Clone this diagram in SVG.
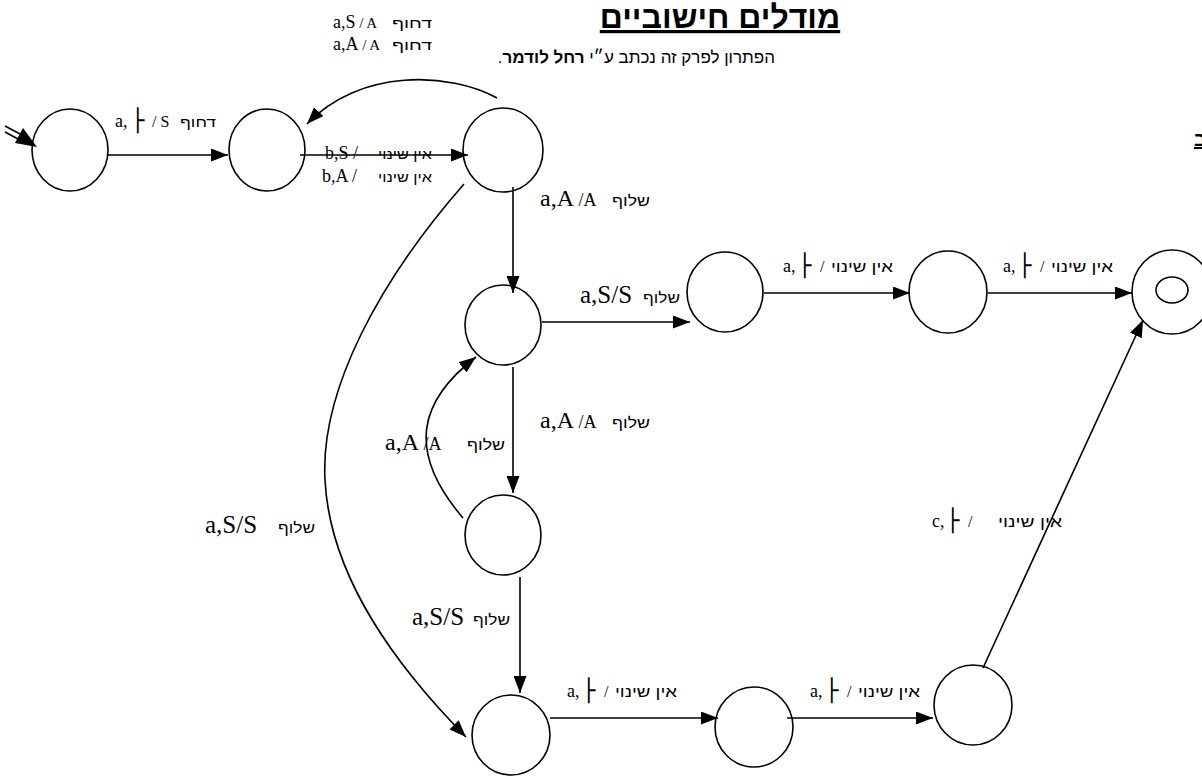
<svg xmlns="http://www.w3.org/2000/svg" width="1202" height="776" viewBox="0 0 1202 776">
<style>
.n{fill:none;stroke:#000;stroke-width:1.6}
.c{fill:none;stroke:#000;stroke-width:1.6}
.s{font-family:"Liberation Serif",serif;fill:#000}
.h{font-family:"Liberation Sans",sans-serif;font-size:14px;fill:#000}
.hb{font-family:"Liberation Sans",sans-serif;font-size:15px;fill:#000}
.t{font-family:"DejaVu Sans",sans-serif;font-size:22px;fill:#000}
</style>
<defs>
<marker id="ah" markerWidth="17" markerHeight="13" refX="17" refY="6.5" orient="auto" markerUnits="userSpaceOnUse"><path d="M0,0 L17,6.5 L0,13 z" fill="#000"/></marker>
</defs>
<rect width="1202" height="776" fill="#fff"/>
<g id="title">
<text x="720" y="28" text-anchor="middle" font-family="'Liberation Sans',sans-serif" font-size="32" font-weight="bold" text-decoration="underline">מודלים חישוביים</text>
<text x="775" y="63" direction="rtl" font-family="'Liberation Sans',sans-serif" font-size="17">הפתרון לפרק זה נכתב ע״י <tspan font-weight="bold">רחל לודמר</tspan>.</text>
<text x="1194" y="146" font-family="'Liberation Sans',sans-serif" font-size="20" font-weight="bold" text-decoration="underline">ב</text>
</g>
<g id="connectors">
<path class="c" d="M108,155 L228,155" marker-end="url(#ah)"/>
<path class="c" d="M300,155 L468,155" marker-end="url(#ah)"/>
<path class="c" d="M497,98 C450,72 360,68 307,124" marker-end="url(#ah)"/>
<path class="c" d="M513,187 L513,293" marker-end="url(#ah)"/>
<path class="c" d="M542,322 L690,322" marker-end="url(#ah)"/>
<path class="c" d="M764,293 L910,293" marker-end="url(#ah)"/>
<path class="c" d="M988,293 L1132,293" marker-end="url(#ah)"/>
<path class="c" d="M513,367 L513,493" marker-end="url(#ah)"/>
<path class="c" d="M463,518 C405,450 420,400 476,357" marker-end="url(#ah)"/>
<path class="c" d="M520,577 L520,693" marker-end="url(#ah)"/>
<path class="c" d="M550,718 L718,718" marker-end="url(#ah)"/>
<path class="c" d="M787,718 L933,718" marker-end="url(#ah)"/>
<path class="c" d="M983,668 L1143,320" marker-end="url(#ah)"/>
<path class="c" d="M464,184 C380,280 320,390 325,480 C330,580 400,670 466,737" marker-end="url(#ah)"/>
<path class="c" d="M5,126 L20,134 M5,132 L20,140"/>
<polygon points="37,147 15,143 23,128" fill="#000"/>
</g>
<g id="q0"><ellipse class="n" cx="70" cy="150" rx="38" ry="41"/></g>
<g id="q1"><ellipse class="n" cx="267" cy="150" rx="38" ry="41"/></g>
<g id="q2"><ellipse class="n" cx="503" cy="150" rx="40" ry="42"/></g>
<g id="q3"><ellipse class="n" cx="503" cy="325" rx="38" ry="40"/></g>
<g id="q4"><ellipse class="n" cx="503" cy="535" rx="38" ry="40"/></g>
<g id="q5"><ellipse class="n" cx="511" cy="735" rx="39" ry="40"/></g>
<g id="q6"><ellipse class="n" cx="725" cy="292" rx="38" ry="40"/></g>
<g id="q7"><ellipse class="n" cx="948" cy="292" rx="39" ry="41"/></g>
<g id="q8"><ellipse class="n" cx="1172" cy="292" rx="40" ry="42"/><ellipse class="n" cx="1172" cy="290" rx="16" ry="13"/></g>
<g id="q9"><ellipse class="n" cx="754" cy="727" rx="39" ry="40"/></g>
<g id="q10"><ellipse class="n" cx="973" cy="705" rx="39" ry="40"/></g>
<g id="labels">
<text class="s" x="333" y="28"><tspan font-size="18">a,S</tspan><tspan font-size="15"> /  A</tspan></text><text class="h" x="392" y="28" textLength="40" lengthAdjust="spacingAndGlyphs">דחוף</text>
<text class="s" x="333" y="50"><tspan font-size="18">a,A</tspan><tspan font-size="15"> /  A</tspan></text><text class="h" x="392" y="50" textLength="40" lengthAdjust="spacingAndGlyphs">דחוף</text>
<text class="s" x="115" y="127" font-size="18">a,</text><text class="t" x="131" y="128">├</text><text class="s" x="152" y="127" font-size="16">/  S</text><text class="h" x="180" y="127" textLength="36" lengthAdjust="spacingAndGlyphs">דחוף</text>
<text class="s" x="325" y="159" font-size="18">b,S /</text><text class="h" x="378" y="159" textLength="54" lengthAdjust="spacingAndGlyphs">אין שינוי</text>
<text class="s" x="322" y="182" font-size="18">b,A /</text><text class="h" x="378" y="182" textLength="54" lengthAdjust="spacingAndGlyphs">אין שינוי</text>
<text class="s" x="540" y="206"><tspan font-size="24">a,A</tspan><tspan font-size="18"> /A</tspan></text><text class="hb" x="612" y="206" textLength="38" lengthAdjust="spacingAndGlyphs">שלוף</text>
<text class="s" x="580" y="303" font-size="25">a,S/S</text><text class="hb" x="643" y="303" textLength="37" lengthAdjust="spacingAndGlyphs">שלוף</text>
<text class="s" x="783" y="272" font-size="18">a,</text><text class="t" x="798" y="273">├</text><text class="s" x="820" y="272" font-size="16">/</text><text class="hb" x="831" y="272" textLength="62" lengthAdjust="spacingAndGlyphs">אין שינוי</text>
<text class="s" x="1003" y="272" font-size="18">a,</text><text class="t" x="1018" y="273">├</text><text class="s" x="1040" y="272" font-size="16">/</text><text class="hb" x="1051" y="272" textLength="62" lengthAdjust="spacingAndGlyphs">אין שינוי</text>
<text class="s" x="540" y="428"><tspan font-size="24">a,A</tspan><tspan font-size="18"> /A</tspan></text><text class="hb" x="612" y="428" textLength="38" lengthAdjust="spacingAndGlyphs">שלוף</text>
<text class="s" x="385" y="450"><tspan font-size="24">a,A</tspan><tspan font-size="18"> /A</tspan></text><text class="hb" x="467" y="450" textLength="38" lengthAdjust="spacingAndGlyphs">שלוף</text>
<text class="s" x="205" y="533" font-size="25">a,S/S</text><text class="hb" x="278" y="533" textLength="37" lengthAdjust="spacingAndGlyphs">שלוף</text>
<text class="s" x="412" y="625" font-size="25">a,S/S</text><text class="hb" x="473" y="625" textLength="37" lengthAdjust="spacingAndGlyphs">שלוף</text>
<text class="s" x="567" y="697" font-size="18">a,</text><text class="t" x="582" y="698">├</text><text class="s" x="604" y="697" font-size="16">/</text><text class="hb" x="615" y="697" textLength="62" lengthAdjust="spacingAndGlyphs">אין שינוי</text>
<text class="s" x="810" y="697" font-size="18">a,</text><text class="t" x="825" y="698">├</text><text class="s" x="847" y="697" font-size="16">/</text><text class="hb" x="858" y="697" textLength="62" lengthAdjust="spacingAndGlyphs">אין שינוי</text>
<text class="s" x="932" y="527" font-size="18">c,</text><text class="t" x="946" y="528">├</text><text class="s" x="968" y="527" font-size="16">/</text><text class="hb" x="998" y="527" textLength="64" lengthAdjust="spacingAndGlyphs">אין שינוי</text>
</g>
</svg>
